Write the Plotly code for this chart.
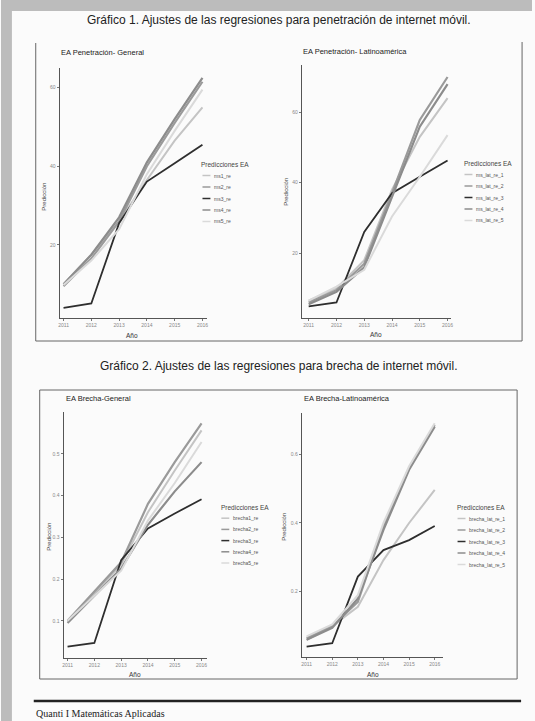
import plotly.graph_objects as go

W, H = 535, 721

years = [2011, 2012, 2013, 2014, 2015, 2016]

# Panel 1: EA Penetración- General
pen_gen_names = ["ms1_re", "ms2_re", "ms3_re", "ms4_re", "ms5_re"]
ms1_re = [10.0, 17.5, 26.0, 36.5, 46.5, 55.0]
ms2_re = [9.5, 16.5, 26.0, 40.0, 51.0, 61.5]
ms3_re = [4.0, 5.1, 25.5, 36.1, 40.8, 45.5]
ms4_re = [10.0, 17.5, 27.0, 41.0, 52.0, 62.5]
ms5_re = [9.8, 16.0, 24.0, 38.0, 49.0, 59.5]
pen_gen_vals = [ms1_re, ms2_re, ms3_re, ms4_re, ms5_re]

# Panel 2: EA Penetración- Latinoamérica
pen_lat_names = ["ms_lat_re_1", "ms_lat_re_2", "ms_lat_re_3", "ms_lat_re_4", "ms_lat_re_5"]
ms_lat_re_1 = [6.5, 10.0, 18.0, 38.0, 53.0, 64.0]
ms_lat_re_2 = [6.0, 9.5, 17.0, 37.0, 57.8, 70.0]
ms_lat_re_3 = [4.9, 6.0, 26.0, 37.0, 41.7, 46.3]
ms_lat_re_4 = [5.5, 9.0, 16.0, 36.0, 55.9, 68.0]
ms_lat_re_5 = [6.5, 10.5, 15.3, 30.4, 41.7, 53.5]
pen_lat_vals = [ms_lat_re_1, ms_lat_re_2, ms_lat_re_3, ms_lat_re_4, ms_lat_re_5]

# Panel 3: EA Brecha-General
bre_gen_names = ["brecha1_re", "brecha2_re", "brecha3_re", "brecha4_re", "brecha5_re"]
brecha1_re = [0.100, 0.165, 0.235, 0.360, 0.460, 0.556]
brecha2_re = [0.100, 0.170, 0.240, 0.380, 0.480, 0.573]
brecha3_re = [0.038, 0.047, 0.245, 0.321, 0.357, 0.391]
brecha4_re = [0.095, 0.160, 0.225, 0.330, 0.410, 0.480]
brecha5_re = [0.100, 0.160, 0.220, 0.340, 0.430, 0.528]
bre_gen_vals = [brecha1_re, brecha2_re, brecha3_re, brecha4_re, brecha5_re]

# Panel 4: EA Brecha-Latinoamérica
bre_lat_names = ["brecha_lat_re_1", "brecha_lat_re_2", "brecha_lat_re_3", "brecha_lat_re_4", "brecha_lat_re_5"]
brecha_lat_re_1 = [0.060, 0.100, 0.156, 0.292, 0.400, 0.496]
brecha_lat_re_2 = [0.065, 0.100, 0.170, 0.390, 0.560, 0.685]
brecha_lat_re_3 = [0.040, 0.050, 0.244, 0.321, 0.350, 0.391]
brecha_lat_re_4 = [0.060, 0.095, 0.180, 0.380, 0.555, 0.680]
brecha_lat_re_5 = [0.070, 0.105, 0.190, 0.400, 0.565, 0.690]
bre_lat_vals = [brecha_lat_re_1, brecha_lat_re_2, brecha_lat_re_3, brecha_lat_re_4, brecha_lat_re_5]

colors = ["#c4c4c4", "#9a9a9a", "#2e2e2e", "#8c8c8c", "#dadada"]
widths = [2.0, 2.2, 1.8, 2.2, 2.0]


def px(x):
    return x / W


def py(y):
    return 1 - y / H


fig = go.Figure()

panels = [
    dict(names=pen_gen_names, vals=pen_gen_vals, xd=(59, 208), yd=(68, 318),
         xr=(2010.857, 2016.18), yr=(1.4, 65), yt=[20, 40, 60], ytt=["20", "40", "60"],
         title="EA Penetración- General", tpos=(58, 53),
         ylab=(43, 197), xlab=(132, 335),
         leg=(199, 164, 11.5, 203)),
    dict(names=pen_lat_names, vals=pen_lat_vals, xd=(303, 453), yd=(65, 318),
         xr=(2010.75, 2016.11), yr=(1.6, 73.4), yt=[20, 40, 60], ytt=["20", "40", "60"],
         title="EA Penetración- Latinoamérica", tpos=(302, 52),
         ylab=(287, 192), xlab=(378, 334),
         leg=(464, 163, 11.5, 467)),
    dict(names=bre_gen_names, vals=bre_gen_vals, xd=(63, 208), yd=(412, 658),
         xr=(2010.85, 2016.22), yr=(0.011, 0.6), yt=[0.1, 0.2, 0.3, 0.4, 0.5],
         ytt=["0.1", "0.2", "0.3", "0.4", "0.5"],
         title="EA Brecha-General", tpos=(63, 398),
         ylab=(48, 537), xlab=(135, 674),
         leg=(220, 507, 11.2, 222)),
    dict(names=bre_lat_names, vals=bre_lat_vals, xd=(303, 445), yd=(413, 657),
         xr=(2010.81, 2016.31), yr=(0.01, 0.72), yt=[0.2, 0.4, 0.6],
         ytt=["0.2", "0.4", "0.6"],
         title="EA Brecha-Latinoamérica", tpos=(303, 398),
         ylab=(285, 527), xlab=(375, 674),
         leg=(457, 507, 11.5, 460)),
]

annotations = []
shapes = []
axis_font = dict(family="Liberation Sans, Arial, sans-serif", size=5, color="#888888")

for i, p in enumerate(panels):
    n = i + 1
    xa = "x" if n == 1 else f"x{n}"
    ya = "y" if n == 1 else f"y{n}"
    for name, vals, c, w in zip(p["names"], p["vals"], colors, widths):
        fig.add_trace(go.Scatter(x=years, y=vals, mode="lines", name=name,
                                 line=dict(color=c, width=w), showlegend=False,
                                 xaxis=xa, yaxis=ya))
    xkey = "xaxis" if n == 1 else f"xaxis{n}"
    ykey = "yaxis" if n == 1 else f"yaxis{n}"
    fig.update_layout(**{
        xkey: dict(domain=[px(p["xd"][0]), px(p["xd"][1])], range=list(p["xr"]),
                   anchor=ya, showgrid=False, zeroline=False, showline=True,
                   linecolor="#555555", linewidth=1, ticks="outside", ticklen=2,
                   tickcolor="#777777", tickvals=years,
                   ticktext=[str(y) for y in years], tickfont=axis_font,
                   fixedrange=True),
        ykey: dict(domain=[py(p["yd"][1]), py(p["yd"][0])], range=list(p["yr"]),
                   anchor=xa, showgrid=False, zeroline=False, showline=True,
                   linecolor="#555555", linewidth=1, ticks="outside", ticklen=2,
                   tickcolor="#777777", tickvals=p["yt"], ticktext=p["ytt"],
                   tickfont=axis_font, fixedrange=True),
    })
    # panel title
    annotations.append(dict(x=px(p["tpos"][0]), y=py(p["tpos"][1]), xref="paper", yref="paper",
                            text=p["title"], showarrow=False, xanchor="left", yanchor="middle",
                            font=dict(family="Liberation Sans, Arial, sans-serif", size=7.5,
                                      color="#222222")))
    # axis titles
    annotations.append(dict(x=px(p["ylab"][0]), y=py(p["ylab"][1]), xref="paper", yref="paper",
                            text="Predicción", showarrow=False, textangle=-90,
                            xanchor="center", yanchor="middle",
                            font=dict(family="Liberation Sans, Arial, sans-serif", size=6,
                                      color="#444444")))
    annotations.append(dict(x=px(p["xlab"][0]), y=py(p["xlab"][1]), xref="paper", yref="paper",
                            text="Año", showarrow=False, xanchor="center", yanchor="middle",
                            font=dict(family="Liberation Sans, Arial, sans-serif", size=6.5,
                                      color="#333333")))
    # manual legend
    lx, ly, step, sx = p["leg"]
    annotations.append(dict(x=px(lx), y=py(ly), xref="paper", yref="paper",
                            text="Predicciones EA", showarrow=False, xanchor="left",
                            yanchor="middle",
                            font=dict(family="Liberation Sans, Arial, sans-serif", size=6.5,
                                      color="#444444")))
    for k, (name, c) in enumerate(zip(p["names"], colors)):
        yy = ly + step * (k + 1)
        shapes.append(dict(type="line", xref="paper", yref="paper",
                           x0=px(sx), x1=px(sx + 8), y0=py(yy), y1=py(yy),
                           line=dict(color=c, width=1.5)))
        annotations.append(dict(x=px(sx + 10), y=py(yy), xref="paper", yref="paper",
                                text=name, showarrow=False, xanchor="left", yanchor="middle",
                                font=dict(family="Liberation Sans, Arial, sans-serif", size=5,
                                          color="#555555")))

# headings
annotations.append(dict(x=px(280), y=py(20), xref="paper", yref="paper",
                        text="Gráfico 1. Ajustes de las regresiones para penetración de internet móvil.",
                        showarrow=False, xanchor="center", yanchor="middle",
                        font=dict(family="Liberation Sans, Arial, sans-serif", size=12,
                                  color="#222222")))
annotations.append(dict(x=px(280), y=py(366), xref="paper", yref="paper",
                        text="Gráfico 2. Ajustes de las regresiones para brecha de internet móvil.",
                        showarrow=False, xanchor="center", yanchor="middle",
                        font=dict(family="Liberation Sans, Arial, sans-serif", size=12,
                                  color="#222222")))
annotations.append(dict(x=px(33), y=py(713), xref="paper", yref="paper",
                        text="Quanti I Matemáticas Aplicadas",
                        showarrow=False, xanchor="left", yanchor="middle",
                        font=dict(family="Liberation Serif, Times New Roman, serif", size=10,
                                  color="#222222")))

# page decorations: scanner gray strips, frames, footer rule
shapes += [
    dict(type="rect", xref="paper", yref="paper", x0=0, x1=px(11), y0=0, y1=1,
         fillcolor="#bcbcbc", line=dict(width=0), layer="below"),
    dict(type="rect", xref="paper", yref="paper", x0=0, x1=1, y0=py(11), y1=1,
         fillcolor="#bcbcbc", line=dict(width=0), layer="below"),
    # top frame (left, bottom, right)
    dict(type="line", xref="paper", yref="paper", x0=px(35), x1=px(35), y0=py(43), y1=py(341),
         line=dict(color="#666666", width=1)),
    dict(type="line", xref="paper", yref="paper", x0=px(35), x1=px(525), y0=py(341), y1=py(341),
         line=dict(color="#666666", width=1)),
    dict(type="line", xref="paper", yref="paper", x0=px(525), x1=px(525), y0=py(42), y1=py(341),
         line=dict(color="#666666", width=1)),
    # bottom frame
    dict(type="rect", xref="paper", yref="paper", x0=px(39), x1=px(520), y0=py(679), y1=py(390),
         line=dict(color="#666666", width=1)),
    # footer rule
    dict(type="line", xref="paper", yref="paper", x0=px(33), x1=px(524), y0=py(701), y1=py(701),
         line=dict(color="#222222", width=2.5)),
]

fig.update_layout(
    width=W, height=H,
    margin=dict(l=0, r=0, t=0, b=0),
    paper_bgcolor="#fbfbfb",
    plot_bgcolor="rgba(0,0,0,0)",
    showlegend=False,
    annotations=annotations,
    shapes=shapes,
)

fig.write_html(
    "out.html",
    config={"displayModeBar": False},
    post_script="document.body.style.margin='0';document.body.style.padding='0';"
                "document.body.style.overflow='hidden';",
)
